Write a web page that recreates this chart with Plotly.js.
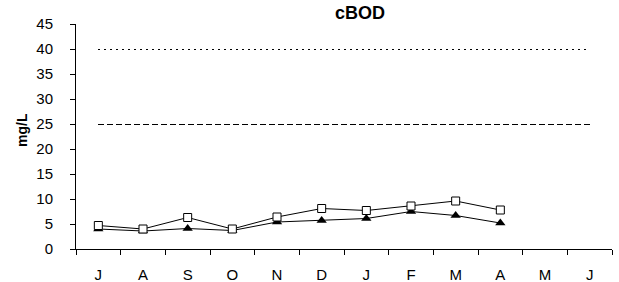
<!DOCTYPE html>
<html>
<head>
<meta charset="utf-8">
<script src="https://cdn.plot.ly/plotly-3.0.1.min.js"></script>
<style>
html,body{margin:0;padding:0;background:#fff;}
#chart{width:619px;height:282px;}
.scatterlayer .trace:nth-child(-n+2) path.js-line{shape-rendering:crispEdges;}
</style>
</head>
<body>
<div id="chart"></div>
<script>
const months = ["Jul","Aug","Sep","Oct","Nov","Dec","Jan","Feb","Mar","Apr","May","Jun"];
const monthLabels = ["J","A","S","O","N","D","J","F","M","A","M","J"];
const effluentSquares = [4.7, 4.0, 6.3, 4.0, 6.4, 8.1, 7.7, 8.6, 9.6, 7.8];
const effluentTriangles = [4.0, 3.6, 4.1, 3.7, 5.4, 5.7, 6.1, 7.5, 6.7, 5.2];
const limitDaily = [40, 40];
const limitMonthly = [25, 25];
const yTicks = [0,5,10,15,20,25,30,35,40,45];

const endpoints = [months[0], months[months.length-1]];
const FONT = "Liberation Sans, Arial, sans-serif";
const W = 619, H = 282;

const traces = [
  {x: endpoints, y: limitDaily, mode: "lines", line: {color: "#000", width: 1, dash: "2px,4px"}, hoverinfo: "skip"},
  {x: endpoints, y: limitMonthly, mode: "lines", line: {color: "#000", width: 1, dash: "6px,3px"}, hoverinfo: "skip"},
  {x: months.slice(0, effluentTriangles.length), y: effluentTriangles, mode: "lines+markers",
   line: {color: "#000", width: 1}, marker: {symbol: "triangle-up", size: 9, color: "#000"}},
  {x: months.slice(0, effluentSquares.length), y: effluentSquares, mode: "lines+markers",
   line: {color: "#000", width: 1}, marker: {symbol: "square", size: 8, color: "#fff", line: {color: "#000", width: 1}}}
];

const layout = {
  width: W, height: H,
  margin: {l: 76, r: 7, t: 24, b: 33},
  paper_bgcolor: "#fff", plot_bgcolor: "#fff",
  showlegend: false,
  font: {family: FONT, size: 15, color: "#000"},
  title: {text: "<b>cBOD</b>", font: {family: FONT, size: 18, color: "#000"}, x: 360/W, xanchor: "center", y: 1, yanchor: "top", pad: {t: 6}},
  xaxis: {
    type: "category", categoryorder: "array", categoryarray: months,
    range: [-0.5, 11.5], tickmode: "array", tickvals: months, ticktext: monthLabels,
    tickson: "boundaries", ticks: "outside", ticklen: 5, tickcolor: "#000", tickwidth: 1,
    ticklabelstandoff: 12,
    showline: true, linecolor: "#000", linewidth: 1, showgrid: false, zeroline: false,
    tickfont: {family: FONT, size: 15, color: "#000"}, fixedrange: true
  },
  yaxis: {
    range: [0, 45], tickmode: "array", tickvals: yTicks,
    ticks: "outside", ticklen: 5, tickcolor: "#000", tickwidth: 1,
    ticklabelstandoff: 14,
    showline: true, linecolor: "#000", linewidth: 1, showgrid: false, zeroline: false,
    tickfont: {family: FONT, size: 15, color: "#000"}, fixedrange: true
  },
  annotations: [{
    text: "<b>mg/L</b>", textangle: -90, showarrow: false,
    xref: "paper", yref: "paper",
    x: (22 - 76) / (W - 76 - 7), y: (H - 33 - 130) / (H - 24 - 33),
    xanchor: "center", yanchor: "middle",
    font: {family: FONT, size: 14, color: "#000"}
  }]
};

Plotly.newPlot("chart", traces, layout, {displayModeBar: false, staticPlot: true});
</script>
</body>
</html>
